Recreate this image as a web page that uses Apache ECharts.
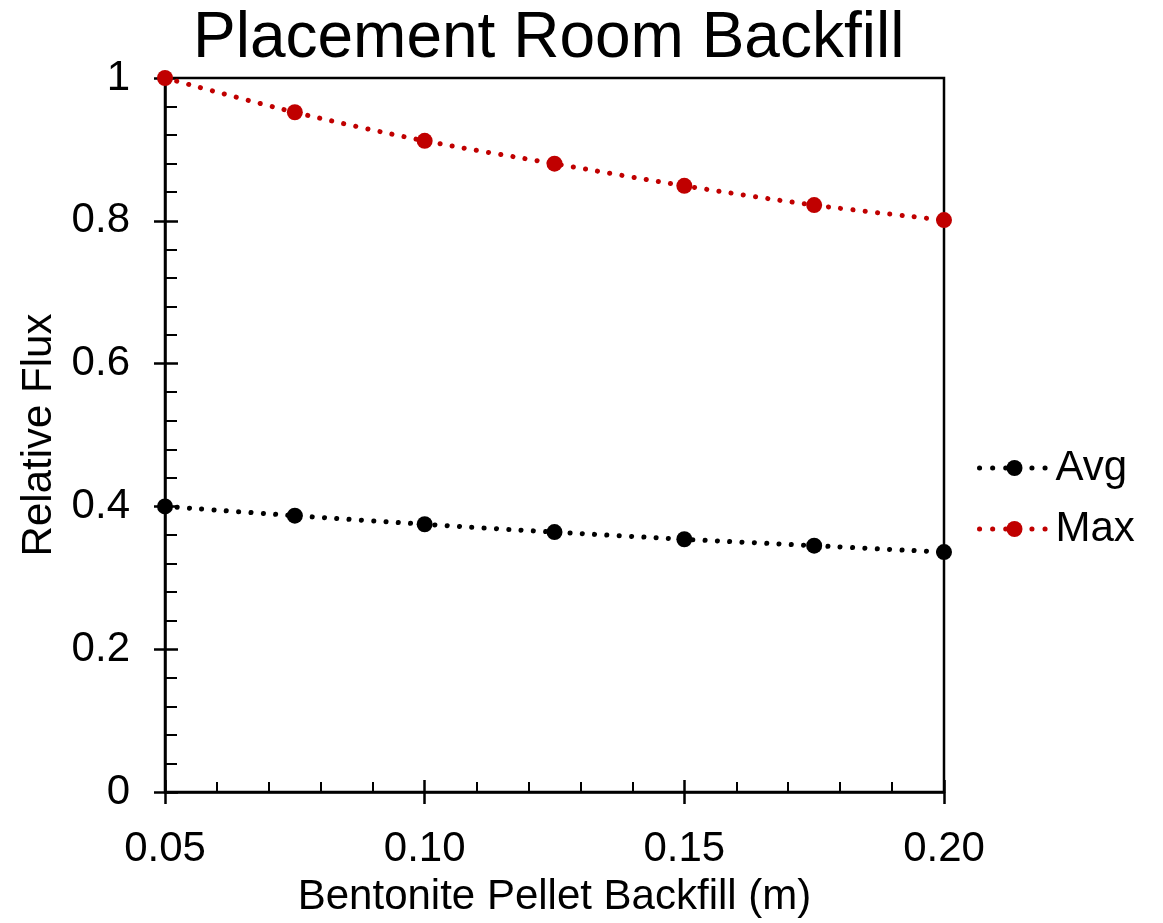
<!DOCTYPE html>
<html><head><meta charset="utf-8">
<script src="https://cdn.jsdelivr.net/npm/echarts@6/dist/echarts.min.js"></script>
<style>html,body{margin:0;padding:0;background:#fff}#c{width:1163px;height:923px}</style>
</head><body><div id="c"></div>
<script>
var xValues = [0.05, 0.075, 0.10, 0.125, 0.15, 0.175, 0.20];
var avgValues = [0.400, 0.387, 0.375, 0.364, 0.354, 0.345, 0.336];
var maxValues = [1.000, 0.952, 0.912, 0.880, 0.849, 0.822, 0.801];
var seriesNames = ['Avg', 'Max'];
var titleText = 'Placement Room Backfill';
var xName = 'Bentonite Pellet Backfill (m)';
var yName = 'Relative Flux';

function pairs(vals){ return xValues.map(function(x,i){ return [x, vals[i]]; }); }
var F = 'Liberation Sans, Arial, sans-serif';
var dot = {type:[0.1, 12.2], width:5, cap:'round'};

var chart = echarts.init(document.getElementById('c'), null, {renderer:'canvas'});
chart.setOption({
  animation:false,
  backgroundColor:'#fff',
  title:{text:titleText, left:188, top:2, textStyle:{fontFamily:F, fontSize:64, fontWeight:'normal', color:'#000'}},
  grid:{left:165, right:219, top:78, bottom:130, show:true, borderColor:'#000', borderWidth:2.5, containLabel:false},
  legend:{orient:'vertical', left:972, top:442, itemWidth:70, itemHeight:20, itemGap:19,
    lineStyle:{width:5, type:[0.1, 13], cap:'round'},
    textStyle:{fontFamily:F, fontSize:42, color:'#000', padding:[0,0,0,1]}, data:seriesNames},
  xAxis:[{
    type:'value', min:0.05, max:0.20, interval:0.05,
    name:xName, nameLocation:'middle', nameGap:84,
    nameTextStyle:{fontFamily:F, fontSize:42, color:'#000'},
    axisLine:{show:true, lineStyle:{color:'#000', width:2.5}},
    axisTick:{show:true, inside:true, length:12, lineStyle:{color:'#000', width:2.5}},
    minorTick:{show:true, splitNumber:5, length:10, lineStyle:{color:'#000', width:2}},
    axisLabel:{fontFamily:F, fontSize:42, color:'#000', margin:36, formatter:function(v){return v.toFixed(2);}},
    splitLine:{show:false}
  },{
    type:'value', min:0.05, max:0.20, interval:0.05, position:'bottom',
    axisLine:{show:false}, axisTick:{show:true, inside:false, length:12, lineStyle:{color:'#000', width:2.5}},
    axisLabel:{show:false}, splitLine:{show:false}
  }],
  yAxis:[{
    type:'value', min:0, max:1, interval:0.2,
    name:yName, nameLocation:'middle', nameGap:100,
    nameTextStyle:{fontFamily:F, fontSize:42, color:'#000'},
    axisLine:{show:true, lineStyle:{color:'#000', width:2.5}},
    axisTick:{show:true, inside:true, length:13, lineStyle:{color:'#000', width:2.5}},
    minorTick:{show:true, splitNumber:5, length:12, lineStyle:{color:'#000', width:2}},
    axisLabel:{fontFamily:F, fontSize:42, color:'#000', margin:35, formatter:function(v){return String(Math.round(v*10)/10);}},
    splitLine:{show:false}
  },{
    type:'value', min:0, max:1, interval:0.2, position:'left',
    axisLine:{show:false}, axisTick:{show:true, inside:false, length:11, lineStyle:{color:'#000', width:2.5}},
    axisLabel:{show:false}, splitLine:{show:false}
  }],
  series:[
    {name:seriesNames[0], type:'line', smooth:0.3, data:pairs(avgValues), symbol:'circle', symbolSize:16,
      itemStyle:{color:'#000'}, lineStyle:Object.assign({color:'#000'}, dot), z:3},
    {name:seriesNames[1], type:'line', smooth:0.3, data:pairs(maxValues), symbol:'circle', symbolSize:16,
      itemStyle:{color:'#c00000'}, lineStyle:Object.assign({color:'#c00000'}, dot), z:3}
  ]
});
</script></body></html>
